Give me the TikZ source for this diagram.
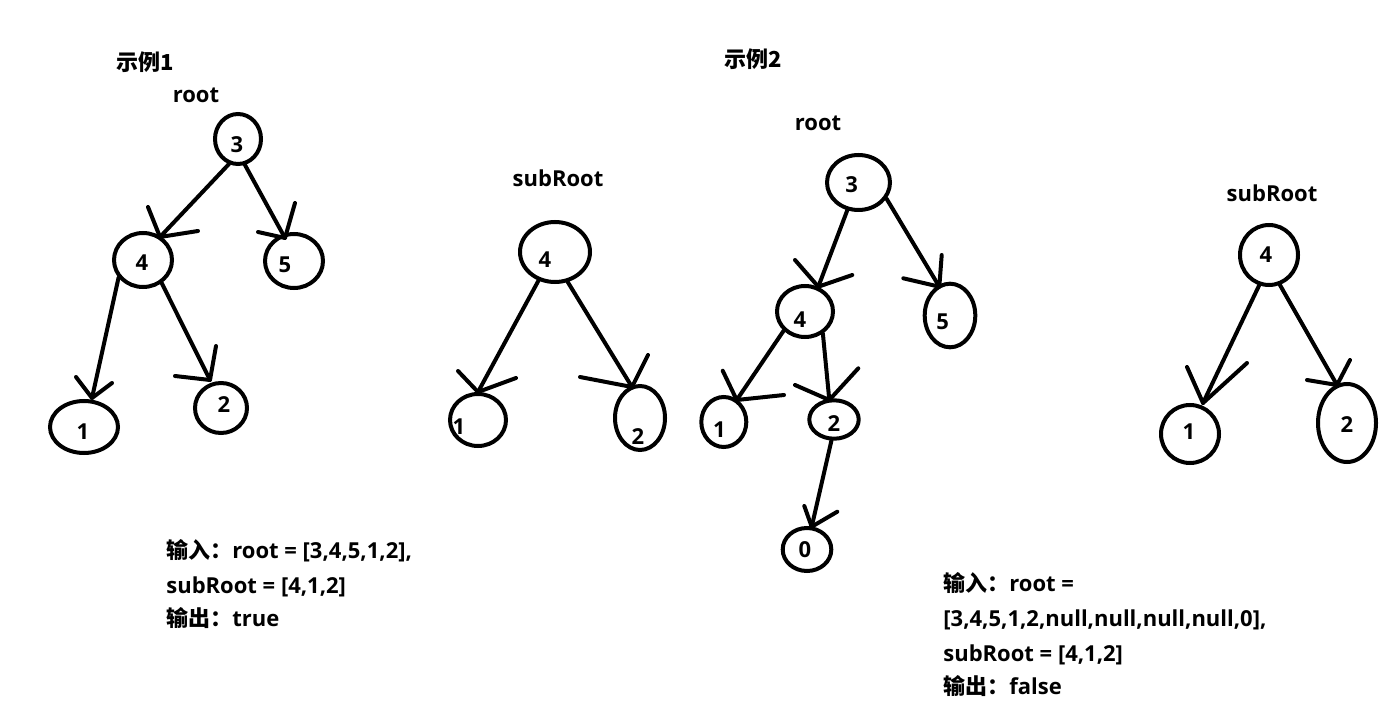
\documentclass[tikz,border=0pt]{standalone}
\usepackage{fontspec}
\setmainfont{Open Sans}
\newfontfamily\cjk{Noto Sans CJK SC}
\usetikzlibrary{shapes.geometric}
\tikzset{
  nd/.style 2 args={draw, ellipse, line width=2pt, inner sep=0pt,
    minimum width=#1pt, minimum height=#2pt},
  lbl/.style={font=\bfseries\fontsize{11}{13}\selectfont, inner sep=0pt},
  txt/.style={font=\bfseries\fontsize{11}{13}\selectfont, inner sep=0pt,
    anchor=west, text height=8pt, text depth=2pt},
  edge/.style={line width=2pt, line cap=round, line join=round},
}
\begin{document}
\begin{tikzpicture}[x=0.5pt, y=-0.5pt]
\useasboundingbox (0,0) rectangle (1396,716);

% ---------- Example 1 ----------
\node[lbl] (t1) at (145,62) {\cjk\bfseries 示例1};
\node[lbl] (r1) at (196,95) {root};
\node[nd={23}{25}] (a3) at (238,139) {};
\node[nd={29}{27}] (a4) at (143,260) {};
\node[nd={29}{27}] (a5) at (294,261) {};
\node[nd={34}{26}] (a1) at (84,427) {};
\node[nd={26}{25}] (a2) at (221,408) {};
\node[lbl] (a3t) at (237,145) {3};
\node[lbl] (a4t) at (142,263) {4};
\node[lbl] (a5t) at (285,265) {5};
\node[lbl] (a1t) at (83,432) {1};
\node[lbl] (a2t) at (224,405) {2};

\coordinate (ta34) at (160,237); \coordinate (ha34) at (148,207); \coordinate (hb34) at (198,231);
\coordinate (ta35) at (285,238); \coordinate (ha35) at (295,203); \coordinate (hb35) at (258,232);
\coordinate (ta41) at (92,398);  \coordinate (ha41) at (76,377);  \coordinate (hb41) at (112,383);
\coordinate (ta42) at (210,380); \coordinate (ha42) at (216,346); \coordinate (hb42) at (175,376);
\draw[edge] (a3.-110) -- (ta34); \draw[edge] (ha34) -- (ta34) -- (hb34);
\draw[edge] (a3.-75) -- (ta35);  \draw[edge] (ha35) -- (ta35) -- (hb35);
\draw[edge] (a4.-144) -- (ta41); \draw[edge] (ha41) -- (ta41) -- (hb41);
\draw[edge] (a4.-51) -- (ta42);  \draw[edge] (ha42) -- (ta42) -- (hb42);

% ---------- SubRoot 1 ----------
\node[lbl] (s1) at (558,178) {subRoot};
\node[nd={35}{30}] (b4) at (555,252) {};
\node[nd={28}{26}] (b1) at (478,420) {};
\node[nd={25}{32}] (b2) at (640,418) {};
\node[lbl] (b4t) at (545,260) {4};
\node[lbl] (b1t) at (459,427) {1};
\node[lbl] (b2t) at (638,437) {2};
\coordinate (tb41) at (478,392); \coordinate (hab41) at (458,371); \coordinate (hbb41) at (516,378);
\coordinate (tb42) at (632,387); \coordinate (hab42) at (648,355); \coordinate (hbb42) at (580,377);
\draw[edge] (b4.-120) -- (tb41); \draw[edge] (hab41) -- (tb41) -- (hbb41);
\draw[edge] (b4.-67) -- (tb42);  \draw[edge] (hab42) -- (tb42) -- (hbb42);

% ---------- Example 2 ----------
\node[lbl] (t2) at (753,59) {\cjk\bfseries 示例2};
\node[lbl] (r2) at (818,123) {root};
\node[nd={31.5}{27.5}] (c3) at (858.5,182.5) {};
\node[nd={25.3}{31.8}] (c5) at (950,315.5) {};
\node[nd={28}{25.5}] (c4) at (805,311.5) {};
\node[nd={22.5}{25}] (c1) at (723.8,422) {};
\node[nd={24.7}{19.2}] (c2) at (834,419.5) {};
\node[nd={24.3}{21.5}] (c0) at (807,549.5) {};
\node[lbl] (c3t) at (851.7,185) {3};
\node[lbl] (c5t) at (942.7,321.7) {5};
\node[lbl] (c4t) at (800,320) {4};
\node[lbl] (c1t) at (719.3,430) {1};
\node[lbl] (c2t) at (834,424) {2};
\node[lbl] (c0t) at (805,550) {0};
\coordinate (tc34) at (818.3,286.7); \coordinate (hac34) at (795,260); \coordinate (hbc34) at (852.3,275);
\coordinate (tc35) at (939.3,286.7); \coordinate (hac35) at (941.7,255); \coordinate (hbc35) at (903.3,278.3);
\coordinate (tc41) at (736.7,400); \coordinate (hac41) at (722.7,370.7); \coordinate (hbc41) at (784,395);
\coordinate (tc42) at (829.3,400); \coordinate (hac42) at (795,385); \coordinate (hbc42) at (858.3,368.3);
\coordinate (tc20) at (811.7,526.7); \coordinate (hac20) at (804.3,506); \coordinate (hbc20) at (837.3,511.7);
\draw[edge] (c3.-112) -- (tc34); \draw[edge] (hac34) -- (tc34) -- (hbc34);
\draw[edge] (c3.-30) -- (tc35);  \draw[edge] (hac35) -- (tc35) -- (hbc35);
\draw[edge] (c4.-138) -- (tc41); \draw[edge] (hac41) -- (tc41) -- (hbc41);
\draw[edge] (c4.-51) -- (tc42);  \draw[edge] (hac42) -- (tc42) -- (hbc42);
\draw[edge] (c2.-97) -- (tc20);  \draw[edge] (hac20) -- (tc20) -- (hbc20);

% ---------- SubRoot 2 ----------
\node[lbl] (s2) at (1272,193) {subRoot};
\node[nd={29}{30}] (d4) at (1269,255) {};
\node[nd={29}{29}] (d1) at (1190,434) {};
\node[nd={29}{39}] (d2) at (1347,423) {};
\node[lbl] (d4t) at (1266,255) {4};
\node[lbl] (d1t) at (1189,432) {1};
\node[lbl] (d2t) at (1347,425) {2};
\coordinate (td41) at (1203,403); \coordinate (had41) at (1187,367); \coordinate (hbd41) at (1247,363);
\coordinate (td42) at (1337,385); \coordinate (had42) at (1350,360); \coordinate (hbd42) at (1307,380);
\draw[edge] (d4.-108) -- (td41); \draw[edge] (had41) -- (td41) -- (hbd41);
\draw[edge] (d4.-70) -- (td42);  \draw[edge] (had42) -- (td42) -- (hbd42);

% ---------- Texts ----------
\node[txt] (e1a) at (166,552) {{\cjk\bfseries 输入：}root = [3,4,5,1,2],};
\node[txt] (e1b) at (166,587) {subRoot = [4,1,2]};
\node[txt] (e1c) at (166,620) {{\cjk\bfseries 输出：}true};
\node[txt] (e2a) at (943,585) {{\cjk\bfseries 输入：}root =};
\node[txt] (e2b) at (943,620) {[3,4,5,1,2,null,null,null,null,0],};
\node[txt] (e2c) at (943,655) {subRoot = [4,1,2]};
\node[txt] (e2d) at (943,688) {{\cjk\bfseries 输出：}false};
\end{tikzpicture}
\end{document}
